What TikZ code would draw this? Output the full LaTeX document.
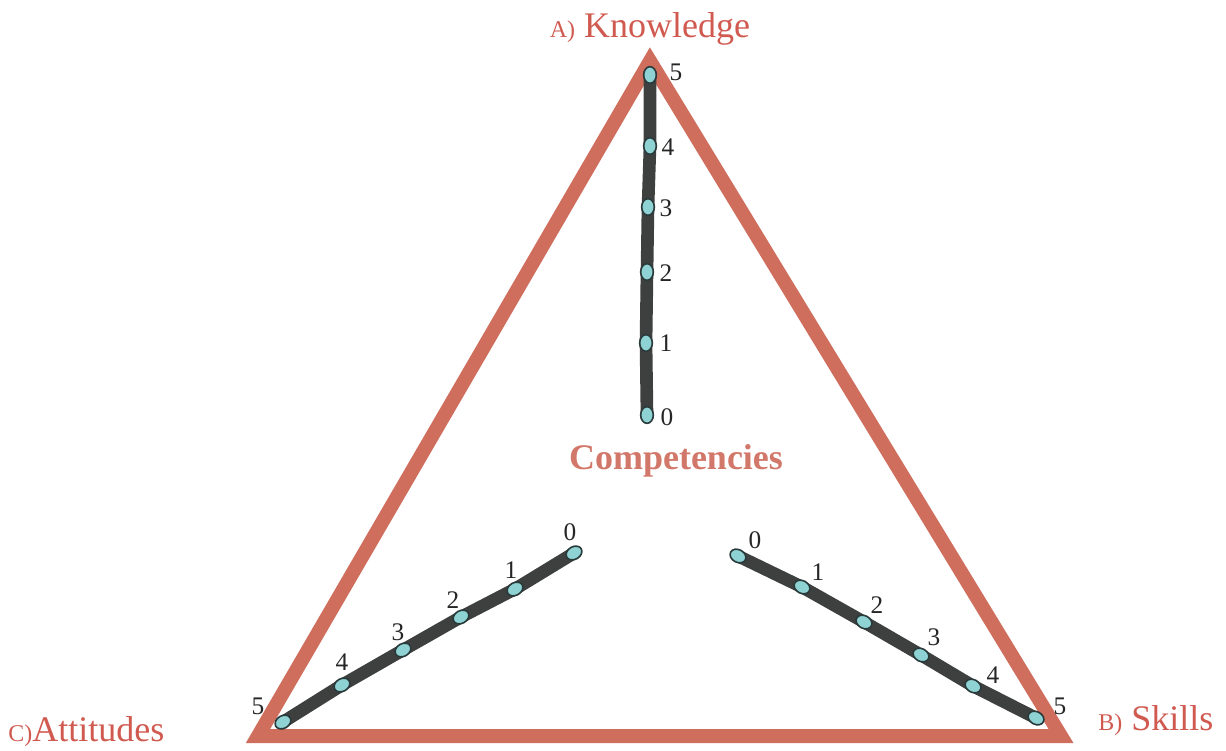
\documentclass[tikz,border=0pt]{standalone}
\usepackage{fontspec}
\setmainfont{Liberation Serif}
\usetikzlibrary{shapes.geometric,backgrounds}
\definecolor{tri}{HTML}{D06E5E}
\definecolor{lab}{HTML}{D05A50}
\definecolor{comp}{HTML}{D2786A}
\definecolor{scalegray}{HTML}{3E403F}
\definecolor{dotfill}{HTML}{8ED2D4}
\definecolor{dotedge}{HTML}{2A3A3A}
\begin{document}
\begin{tikzpicture}[x=0.75pt,y=-0.75pt,
  scaleline/.style={draw=scalegray,line width=9.5pt,shorten <=-3pt,shorten >=-3pt},
  tick/.style={ellipse,draw=dotedge,fill=dotfill,line width=1.2pt,minimum width=12.5pt,minimum height=9.5pt,inner sep=0pt},
  num/.style={font=\fontsize{19}{19}\selectfont,text=black!85,inner sep=0pt},
  side/.style={font=\fontsize{27}{27}\selectfont,text=lab,inner sep=0pt}
]
\useasboundingbox (0,0) rectangle (1226,750);
% triangle corners
\coordinate (ta) at (650,61);
\coordinate (tl) at (258,736);
\coordinate (tr) at (1061,736);
% Knowledge scale
\node[tick,rotate=90] (k5) at (650,75) {};
\node[tick,rotate=90] (k4) at (650,146) {};
\node[tick,rotate=90] (k3) at (648,207) {};
\node[tick,rotate=90] (k2) at (647,272) {};
\node[tick,rotate=90] (k1) at (646,343) {};
\node[tick,rotate=90] (k0) at (647,415) {};
% Attitudes scale
\node[tick,rotate=30] (a0) at (574,553) {};
\node[tick,rotate=30] (a1) at (515,589) {};
\node[tick,rotate=30] (a2) at (461,617) {};
\node[tick,rotate=30] (a3) at (403,650) {};
\node[tick,rotate=30] (a4) at (342,685) {};
\node[tick,rotate=30] (a5) at (283,722) {};
% Skills scale
\node[tick,rotate=-28.5] (s0) at (738,556) {};
\node[tick,rotate=-28.5] (s1) at (802,587) {};
\node[tick,rotate=-28.5] (s2) at (864,622) {};
\node[tick,rotate=-28.5] (s3) at (921,655) {};
\node[tick,rotate=-28.5] (s4) at (973,686) {};
\node[tick,rotate=-28.5] (s5) at (1036,718) {};
\begin{pgfonlayer}{background}
  \draw[tri,line width=10.5pt,miter limit=10] (ta) -- (tr) -- (tl) -- cycle;
  \draw[scaleline] (k5.center) -- (k4.center) -- (k3.center) -- (k2.center) -- (k1.center) -- (k0.center);
  \draw[scaleline] (a5.center) -- (a4.center) -- (a3.center) -- (a2.center) -- (a1.center) -- (a0.center);
  \draw[scaleline] (s5.center) -- (s4.center) -- (s3.center) -- (s2.center) -- (s1.center) -- (s0.center);
\end{pgfonlayer}
% numbers
\node[num] (nk5) at (676,72) {5};
\node[num] (nk4) at (668,147) {4};
\node[num] (nk3) at (666,208) {3};
\node[num] (nk2) at (666,273) {2};
\node[num] (nk1) at (666,343) {1};
\node[num] (nk0) at (667,417) {0};
\node[num] (na0) at (570,532) {0};
\node[num] (na1) at (511,570) {1};
\node[num] (na2) at (453,600) {2};
\node[num] (na3) at (398,632) {3};
\node[num] (na4) at (342,662) {4};
\node[num] (na5) at (258,706) {5};
\node[num] (ns0) at (755,540) {0};
\node[num] (ns1) at (818,572) {1};
\node[num] (ns2) at (877,605) {2};
\node[num] (ns3) at (934,637) {3};
\node[num] (ns4) at (993,675) {4};
\node[num] (ns5) at (1060,706) {5};
% labels
\node[side,anchor=base] (know) at (650,37) {{\fontsize{18}{18}\selectfont A)} Knowledge};
\node[side,anchor=base west] (skills) at (1098,730) {{\fontsize{18}{18}\selectfont B)} Skills};
\node[side,anchor=base west] (att) at (8,741) {{\fontsize{18}{18}\selectfont C)}Attitudes};
\node[font=\fontsize{27}{27}\selectfont\bfseries,text=comp,inner sep=0pt,anchor=base] (competencies) at (676,469) {Competencies};
\end{tikzpicture}
\end{document}
